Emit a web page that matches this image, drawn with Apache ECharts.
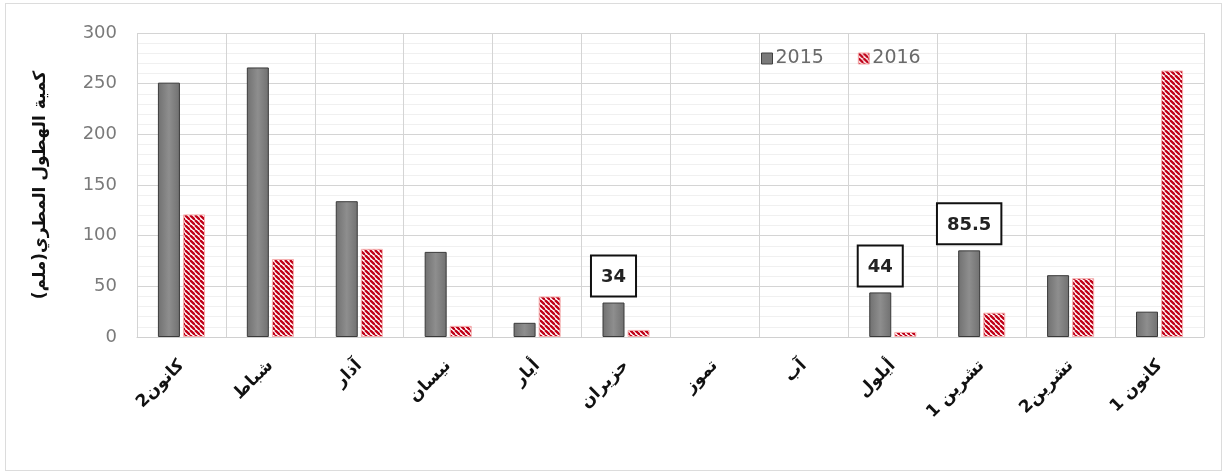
<!DOCTYPE html>
<html>
<head>
<meta charset="utf-8">
<script src="https://cdn.jsdelivr.net/npm/echarts@6/dist/echarts.min.js"></script>
<style>
html,body{margin:0;padding:0;background:#fff;}
#frame{position:absolute;left:5px;top:3px;width:1217px;height:468px;border:1px solid #dcdcdc;box-sizing:border-box;}
#chart{position:absolute;left:0;top:0;width:1227px;height:474px;}
</style>
</head>
<body>
<div id="frame"></div>
<div id="chart" dir="rtl"></div>
<script>
var categories = ['كانون2','شباط','آذار','نيسان','أيار','حزيران','تموز','آب','أيلول','تشرين 1','تشرين2','كانون 1'];
var series2015 = [251, 266, 134, 84, 14, 34, 0, 0, 44, 85.5, 61, 25];
var series2016 = [121, 77, 87, 11, 40, 7, 0, 0, 5, 24, 58, 263];
var labelled2015 = [5, 8, 9];
var yTicks = [0, 50, 100, 150, 200, 250, 300];
var yAxisTitle = 'كمية الهطول المطري(ملم)';

function makeHatch(){
  var s = 5;
  var c = document.createElement('canvas');
  c.width = s; c.height = s;
  var ctx = c.getContext('2d');
  ctx.fillStyle = '#ffffff';
  ctx.fillRect(0,0,s,s);
  ctx.strokeStyle = '#c00018';
  ctx.lineWidth = 2.3;
  [-s, 0, s].forEach(function(k){
    ctx.beginPath(); ctx.moveTo(k, 0); ctx.lineTo(k + s, s); ctx.stroke();
  });
  return c;
}
var hatch = makeHatch();

var grayFill = new echarts.graphic.LinearGradient(0,0,1,0,[
  {offset:0,color:'#707070'},{offset:0.5,color:'#8e8e8e'},{offset:1,color:'#707070'}]);

var labelStyle = {
  show:true, position:'top', distance:7,
  backgroundColor:'#ffffff', borderColor:'#111', borderWidth:2,
  padding:[12,9,9,9], fontFamily:'DejaVu Sans', fontWeight:'bold', fontSize:18, color:'#222'
};

function toItems(arr, withLabels){
  return arr.map(function(v,i){
    var item = {value:v};
    if (v === 0) item.itemStyle = {borderWidth:0, opacity:0};
    if (withLabels && labelled2015.indexOf(i) >= 0) item.label = labelStyle;
    return item;
  });
}

var chart = echarts.init(document.getElementById('chart'), null, {renderer:'canvas'});
chart.setOption({
  animation:false,
  backgroundColor:'transparent',
  grid:{left:137, right:23, top:33, bottom:137},
  legend:{
    left:756, top:44, itemWidth:11, itemHeight:11, itemGap:34,
    textStyle:{fontFamily:'DejaVu Sans', fontSize:19, color:'#6a6a6a', padding:[0,0,0,-2]},
    data:[
      {name:'2015', icon:'rect', itemStyle:{color:'#7a7a7a', borderColor:'#404040', borderWidth:1}},
      {name:'2016', icon:'rect', itemStyle:{color:{image:hatch, repeat:'repeat'}, borderColor:'#f4a3a3', borderWidth:1}}
    ]
  },
  xAxis:{
    type:'category', data:categories, boundaryGap:true,
    axisLine:{show:true, lineStyle:{color:'#d0d0d0', width:1}},
    axisTick:{show:false},
    splitLine:{show:true, interval:0, lineStyle:{color:'#d4d4d4', width:1}},
    axisLabel:{interval:0, rotate:45, margin:26, fontFamily:'DejaVu Sans', fontWeight:'bold', fontSize:17, color:'#111'}
  },
  yAxis:{
    type:'value', min:yTicks[0], max:yTicks[yTicks.length-1], interval:50,
    name:yAxisTitle, nameLocation:'middle', nameGap:88,
    nameTextStyle:{fontFamily:'DejaVu Sans', fontWeight:'bold', fontSize:17, color:'#111'},
    axisLine:{show:false}, axisTick:{show:false},
    axisLabel:{margin:20, fontFamily:'DejaVu Sans', fontSize:18, color:'#7a7a7a'},
    splitLine:{show:true, lineStyle:{color:'#d4d4d4', width:1}},
    minorTick:{show:false, splitNumber:5},
    minorSplitLine:{show:true, lineStyle:{color:'#f0f0f0', width:1}}
  },
  series:[
    {name:'2015', type:'bar', data:toItems(series2015, true), barWidth:22, barGap:'14%',
     itemStyle:{color:grayFill, borderColor:'#3a3a3a', borderWidth:1}},
    {name:'2016', type:'bar', data:toItems(series2016, false), barWidth:22,
     itemStyle:{color:{image:hatch, repeat:'repeat'}, borderColor:'#f6b0b0', borderWidth:1}}
  ]
});
</script>
</body>
</html>
